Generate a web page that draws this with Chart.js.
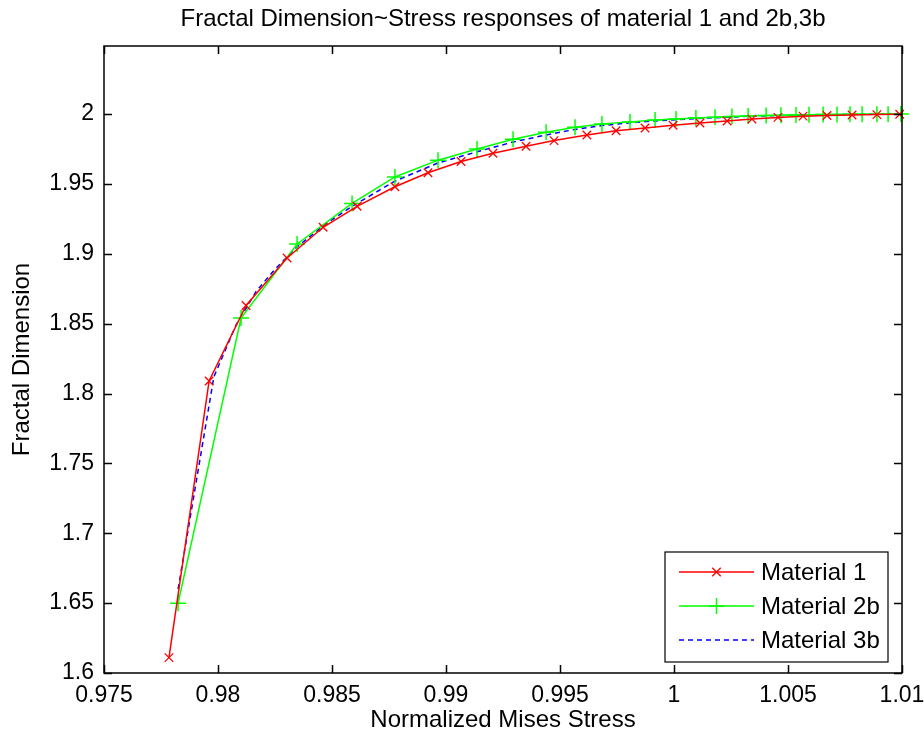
<!DOCTYPE html>
<html>
<head>
<meta charset="utf-8">
<script src="https://cdn.jsdelivr.net/npm/chart.js@4.4.1/dist/chart.umd.min.js"></script>
<style>
  html, body { margin: 0; padding: 0; background: #fff; }
  #wrap { width: 924px; height: 740px; }
</style>
</head>
<body>
<div id="wrap"><canvas id="chart" width="924" height="740"></canvas></div>
<script>
/* texts */
var chart_title = 'Fractal Dimension~Stress responses of material 1 and 2b,3b';
var x_title = 'Normalized Mises Stress';
var y_title = 'Fractal Dimension';
var series_names = ['Material 1', 'Material 2b', 'Material 3b'];

/* ticks */
var x_ticks = [0.975, 0.98, 0.985, 0.99, 0.995, 1, 1.005, 1.01];
var y_ticks = [1.6, 1.65, 1.7, 1.75, 1.8, 1.85, 1.9, 1.95, 2];

/* Material 1 */
var stress_1 = [0.97785, 0.97961, 0.98123, 0.98303, 0.98461, 0.98610, 0.98776, 0.98921, 0.99066, 0.99206,
                0.99351, 0.99474, 0.99618, 0.99746, 0.99873, 0.99996, 1.00114, 1.00233, 1.00342, 1.00456,
                1.00566, 1.00671, 1.00781, 1.00890, 1.00990];
var fd_1 = [1.611, 1.809, 1.863, 1.897, 1.919, 1.934, 1.948, 1.958, 1.966, 1.972,
            1.977, 1.981, 1.985, 1.988, 1.990, 1.992, 1.9936, 1.9950, 1.9964, 1.9976,
            1.9985, 1.9990, 1.9993, 1.9996, 1.9999];

/* Material 2b */
var stress_2b = [0.97825, 0.98101, 0.98347, 0.98588, 0.98776, 0.98965, 0.99136, 0.99294, 0.99439, 0.99566,
                 0.99684, 0.99807, 0.99917, 1.00009, 1.00096, 1.00180, 1.00254, 1.00325, 1.00404, 1.00469,
                 1.00535, 1.00592, 1.00654, 1.00715, 1.00772, 1.00825, 1.00890, 1.00939, 1.00995];
var fd_2b = [1.650, 1.854, 1.907, 1.936, 1.955, 1.967, 1.975, 1.982, 1.987, 1.9905,
             1.9928, 1.9944, 1.9957, 1.9965, 1.9972, 1.9977, 1.9982, 1.9986, 1.9989, 1.9991,
             1.9993, 1.9995, 1.9996, 1.9997, 1.9998, 1.9998, 1.9999, 1.9999, 2.0000];

/* Material 3b */
var stress_3b = [0.97825, 0.97982, 0.98079, 0.98167, 0.98250, 0.98347, 0.98470, 0.98588, 0.98776, 0.98965,
                 0.99136, 0.99294, 0.99439, 0.99566, 0.99684, 0.99807, 0.99917, 1.00009, 1.00180, 1.00325,
                 1.00469, 1.00592, 1.00715, 1.00825, 1.00939, 1.00995];
var fd_3b = [1.660, 1.812, 1.849, 1.873, 1.889, 1.905, 1.921, 1.934, 1.952, 1.965,
             1.973, 1.980, 1.985, 1.989, 1.9918, 1.9937, 1.9951, 1.9960, 1.9974, 1.9984,
             1.9990, 1.9993, 1.9996, 1.9998, 1.9999, 2.0000];

var FONT = 'Liberation Sans, Arial, Helvetica, sans-serif';

function toPoints (xs, ys) {
    return xs.map((x, i) => ({ x: x, y: ys[i] }));
}

/* box, inner ticks, titles and legend drawn like the MATLAB figure */
var frame_plugin = {
    id: 'frame',
    afterDraw: function (chart) {
        var ctx = chart.ctx;
        var a = chart.chartArea;
        var xs = chart.scales.x, ys = chart.scales.y;
        var tick = 8;

        ctx.save();
        ctx.strokeStyle = '#000';
        ctx.lineWidth = 1.5;
        ctx.strokeRect(a.left, a.top, a.right - a.left, a.bottom - a.top);

        ctx.beginPath();
        x_ticks.forEach(v => {
            var px = Math.round(xs.getPixelForValue(v)) + 0.5;
            ctx.moveTo(px, a.bottom); ctx.lineTo(px, a.bottom - tick);
            ctx.moveTo(px, a.top); ctx.lineTo(px, a.top + tick);
        });
        y_ticks.forEach(v => {
            var py = Math.round(ys.getPixelForValue(v)) + 0.5;
            ctx.moveTo(a.left, py); ctx.lineTo(a.left + tick, py);
            ctx.moveTo(a.right, py); ctx.lineTo(a.right - tick, py);
        });
        ctx.stroke();

        /* titles */
        ctx.fillStyle = '#000';
        ctx.textAlign = 'center';
        ctx.textBaseline = 'middle';
        ctx.font = '24px ' + FONT;
        ctx.fillText(chart_title, (a.left + a.right) / 2, 19);
        ctx.fillText(x_title, (a.left + a.right) / 2, 720);
        ctx.save();
        ctx.translate(22, (a.top + a.bottom) / 2);
        ctx.rotate(-Math.PI / 2);
        ctx.fillText(y_title, 0, 0);
        ctx.restore();

        /* legend */
        var lw = 223, lh = 110;
        var lx = a.right - 14 - lw, ly = a.bottom - 11 - lh;
        ctx.fillStyle = '#fff';
        ctx.fillRect(lx, ly, lw, lh);
        ctx.lineWidth = 1.2;
        ctx.strokeStyle = '#000';
        ctx.strokeRect(lx, ly, lw, lh);
        ctx.textAlign = 'left';
        ctx.font = '24px ' + FONT;
        chart.data.datasets.forEach((ds, i) => {
            var cy = ly + 20 + i * 34;
            var x0 = lx + 14, x1 = lx + 89;
            ctx.strokeStyle = ds.borderColor;
            ctx.lineWidth = ds.borderWidth;
            ctx.setLineDash(ds.borderDash || []);
            ctx.beginPath();
            ctx.moveTo(x0, cy); ctx.lineTo(x1, cy);
            ctx.stroke();
            ctx.setLineDash([]);
            if (ds.pointRadius > 0) {
                ctx.lineWidth = ds.pointBorderWidth;
                Chart.helpers.drawPoint(ctx, {
                    pointStyle: ds.pointStyle,
                    radius: ds.pointRadius,
                    borderWidth: ds.pointBorderWidth,
                    rotation: 0
                }, (x0 + x1) / 2, cy);
            }
            ctx.fillStyle = '#000';
            ctx.fillText(ds.label, x1 + 7, cy + 1);
        });
        ctx.restore();
    }
};

var chart = new Chart(document.getElementById('chart'), {
    type: 'scatter',
    data: {
        datasets: [
            {
                label: series_names[0],
                data: toPoints(stress_1, fd_1),
                showLine: true,
                borderColor: '#ff0000',
                backgroundColor: '#ff0000',
                borderWidth: 1.5,
                pointStyle: 'crossRot',
                pointRadius: 6,
                pointBorderWidth: 1.3,
                pointBorderColor: '#ff0000',
                clip: false
            },
            {
                label: series_names[1],
                data: toPoints(stress_2b, fd_2b),
                showLine: true,
                borderColor: '#00ff00',
                backgroundColor: '#00ff00',
                borderWidth: 1.5,
                pointStyle: 'cross',
                pointRadius: 8,
                pointBorderWidth: 1.5,
                pointBorderColor: '#00ff00',
                clip: false
            },
            {
                label: series_names[2],
                data: toPoints(stress_3b, fd_3b),
                showLine: true,
                borderColor: '#0000ff',
                backgroundColor: '#0000ff',
                borderWidth: 1.5,
                borderDash: [5, 4],
                pointRadius: 0,
                clip: false
            }
        ]
    },
    options: {
        responsive: false,
        animation: false,
        layout: { padding: { top: 46, right: 22, bottom: 0, left: 0 } },
        plugins: {
            legend: { display: false },
            title: { display: false },
            tooltip: { enabled: false }
        },
        elements: { line: { tension: 0 } },
        scales: {
            x: {
                type: 'linear',
                min: 0.975,
                max: 1.01,
                afterBuildTicks: s => { s.ticks = x_ticks.map(v => ({ value: v })); },
                afterFit: s => { s.height = 67; s.paddingLeft = 0; s.paddingRight = 0; },
                grid: { display: false, drawTicks: false },
                border: { display: false },
                ticks: {
                    padding: 9,
                    color: '#000',
                    font: { family: FONT, size: 23 },
                    maxRotation: 0,
                    callback: v => String(v)
                }
            },
            y: {
                type: 'linear',
                min: 1.6,
                max: 2.0487,
                afterBuildTicks: s => { s.ticks = y_ticks.map(v => ({ value: v })); },
                afterFit: s => { s.width = 104; s.paddingTop = 0; s.paddingBottom = 0; },
                grid: { display: false, drawTicks: false },
                border: { display: false },
                ticks: {
                    padding: 10,
                    color: '#000',
                    font: { family: FONT, size: 23 },
                    callback: v => String(v)
                }
            }
        }
    },
    plugins: [frame_plugin]
});
</script>
</body>
</html>
